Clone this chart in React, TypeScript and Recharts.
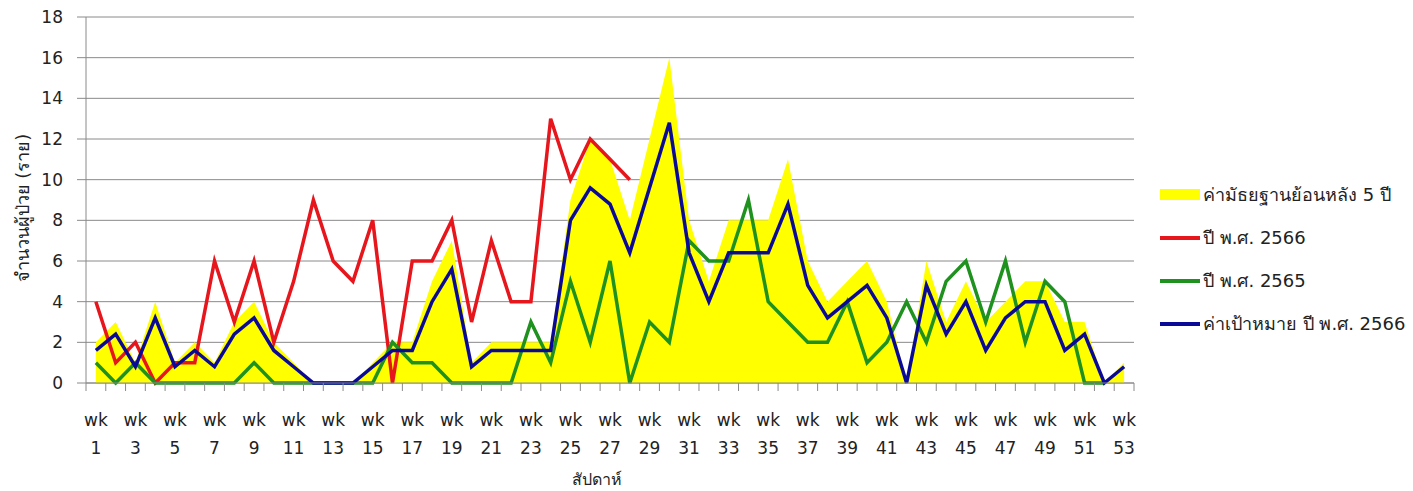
import React from 'react';
import { ComposedChart, Area, Line, XAxis, YAxis, CartesianGrid, Legend } from 'recharts';

const weeks = [1, 2, 3, 4, 5, 6, 7, 8, 9, 10, 11, 12, 13, 14, 15, 16, 17, 18, 19, 20, 21, 22, 23, 24, 25, 26, 27, 28, 29, 30, 31, 32, 33, 34, 35, 36, 37, 38, 39, 40, 41, 42, 43, 44, 45, 46, 47, 48, 49, 50, 51, 52, 53];

const median5y = [2, 3, 1, 4, 1, 2, 1, 3, 4, 2, 1, 0, 0, 0, 1, 2, 2, 5, 7, 1, 2, 2, 2, 2, 9, 12, 11, 8, 12, 16, 8, 5, 8, 8, 8, 11, 6, 4, 5, 6, 4, 0, 6, 3, 5, 3, 4, 5, 5, 3, 3, 0, 1];

const cases2566 = [4, 1, 2, 0, 1, 1, 6, 3, 6, 2, 5, 9, 6, 5, 8, 0, 6, 6, 8, 3, 7, 4, 4, 13, 10, 12, 11, 10];

const cases2565 = [1, 0, 1, 0, 0, 0, 0, 0, 1, 0, 0, 0, 0, 0, 0, 2, 1, 1, 0, 0, 0, 0, 3, 1, 5, 2, 6, 0, 3, 2, 7, 6, 6, 9, 4, 3, 2, 2, 4, 1, 2, 4, 2, 5, 6, 3, 6, 2, 5, 4, 0, 0];

const target2566 = [1.6, 2.4, 0.8, 3.2, 0.8, 1.6, 0.8, 2.4, 3.2, 1.6, 0.8, 0, 0, 0, 0.8, 1.6, 1.6, 4, 5.6, 0.8, 1.6, 1.6, 1.6, 1.6, 8, 9.6, 8.8, 6.4, 9.6, 12.8, 6.4, 4, 6.4, 6.4, 6.4, 8.8, 4.8, 3.2, 4, 4.8, 3.2, 0, 4.8, 2.4, 4, 1.6, 3.2, 4, 4, 1.6, 2.4, 0, 0.8];

const yTicks = [0, 2, 4, 6, 8, 10, 12, 14, 16, 18];

const tickPrefix = 'wk';
const xTitle = 'สัปดาห์';
const yTitle = 'จำนวนผู้ป่วย (ราย)';

const seriesNames = {
  median: 'ค่ามัธยฐานย้อนหลัง 5 ปี',
  y2566: 'ปี พ.ศ. 2566',
  y2565: 'ปี พ.ศ. 2565',
  target: 'ค่าเป้าหมาย ปี พ.ศ. 2566',
};

const COLORS = {
  median: '#FFFF00',
  y2566: '#E6161C',
  y2565: '#1E911E',
  target: '#0A0A96',
  grid: '#8A8A8A',
  text: '#222222',
};

const FONT = "Tahoma, 'DejaVu Sans', sans-serif";

const data = weeks.map((w, i) => ({
  week: w,
  median: median5y[i],
  y2566: cases2566[i] ?? null,
  y2565: cases2565[i] ?? null,
  target: target2566[i],
}));

const CHART_W = 1413;
const CHART_H = 491;
const PLOT_W = 1048;
const BAND_HALF = PLOT_W / weeks.length / 2;

const XTick = (props: any) => {
  const { x, y, payload, index } = props;
  const half = payload && payload.offset ? payload.offset : BAND_HALF;
  return (
    <g>
      <line x1={x - half} y1={y} x2={x - half} y2={y + 8} stroke={COLORS.grid} strokeWidth={1} />
      {index === weeks.length - 1 && (
        <line x1={x + half} y1={y} x2={x + half} y2={y + 8} stroke={COLORS.grid} strokeWidth={1} />
      )}
      {index % 2 === 0 && (
        <text textAnchor="middle" fontSize={17} fill={COLORS.text} fontFamily={FONT}>
          <tspan x={x} y={y + 43}>{tickPrefix}</tspan>
          <tspan x={x} y={y + 71}>{payload.value}</tspan>
        </text>
      )}
    </g>
  );
};

const XTitle = (props: any) => {
  const vb = props.viewBox || { x: 86, y: 383, width: PLOT_W };
  return (
    <text x={vb.x + vb.width / 2 - 13} y={vb.y + 102} textAnchor="middle" fontSize={16} fill={COLORS.text} fontFamily={FONT}>
      {xTitle}
    </text>
  );
};

const YTitle = () => (
  <text
    x={22}
    y={208}
    transform="rotate(-90 22 208)"
    textAnchor="middle"
    dominantBaseline="central"
    fontSize={18}
    fill={COLORS.text}
    fontFamily={FONT}
  >
    {yTitle}
  </text>
);

const legendItems = [
  { key: 'median', kind: 'area' },
  { key: 'y2566', kind: 'line' },
  { key: 'y2565', kind: 'line' },
  { key: 'target', kind: 'line' },
];

const LegendContent = () => (
  <div style={{ fontFamily: FONT, fontSize: 18, color: COLORS.text }}>
    {legendItems.map((it) => (
      <div key={it.key} style={{ height: 43, display: 'flex', alignItems: 'center', whiteSpace: 'nowrap' }}>
        <svg width={40} height={12} style={{ display: 'block', flex: '0 0 auto' }}>
          {it.kind === 'area' ? (
            <rect x={0} y={0} width={40} height={11} fill={(COLORS as any)[it.key]} />
          ) : (
            <rect x={0} y={4} width={40} height={4} fill={(COLORS as any)[it.key]} />
          )}
        </svg>
        <span style={{ marginLeft: 3 }}>{(seriesNames as any)[it.key]}</span>
      </div>
    ))}
  </div>
);

export default function App() {
  return (
    <div style={{ position: 'absolute', left: 0, top: 0, width: CHART_W, height: CHART_H, background: '#fff' }}>
      <ComposedChart
        width={CHART_W}
        height={CHART_H}
        data={data}
        margin={{ top: 17, right: 26, bottom: 8, left: 0 }}
      >
        <CartesianGrid vertical={false} stroke={COLORS.grid} strokeWidth={1} />
        <XAxis
          dataKey="week"
          type="category"
          scale="band"
          interval={0}
          height={100}
          tickLine={false}
          tickSize={0}
          tickMargin={0}
          axisLine={{ stroke: COLORS.grid }}
          tick={<XTick />}
          label={<XTitle />}
        />
        <YAxis
          type="number"
          domain={[0, 18]}
          ticks={yTicks}
          interval={0}
          width={86}
          tickSize={9}
          tickMargin={14}
          axisLine={{ stroke: COLORS.grid }}
          tickLine={{ stroke: COLORS.grid }}
          tick={{ fontSize: 17, fill: COLORS.text, fontFamily: FONT }}
          label={<YTitle />}
        />
        <Legend
          layout="vertical"
          align="right"
          verticalAlign="middle"
          wrapperStyle={{ left: 1160, top: 173, width: 253 }}
          content={<LegendContent />}
        />
        <Area
          dataKey="median"
          name={seriesNames.median}
          type="linear"
          fill={COLORS.median}
          fillOpacity={1}
          stroke="none"
          isAnimationActive={false}
        />
        <Line dataKey="y2566" name={seriesNames.y2566} type="linear" stroke={COLORS.y2566} strokeWidth={3.5} dot={false} connectNulls={false} isAnimationActive={false} />
        <Line dataKey="y2565" name={seriesNames.y2565} type="linear" stroke={COLORS.y2565} strokeWidth={3.5} dot={false} connectNulls={false} isAnimationActive={false} />
        <Line dataKey="target" name={seriesNames.target} type="linear" stroke={COLORS.target} strokeWidth={3.5} dot={false} isAnimationActive={false} />
      </ComposedChart>
    </div>
  );
}
